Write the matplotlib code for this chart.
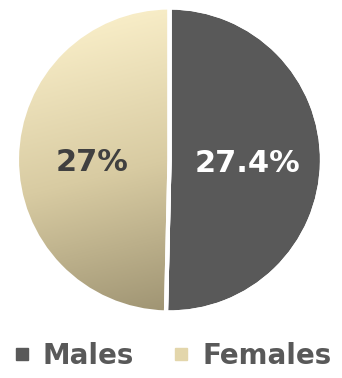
import numpy as np
import matplotlib.pyplot as plt
from matplotlib.colors import LinearSegmentedColormap
from matplotlib.lines import Line2D

groups = ["Males", "Females"]
values = [27.4, 27]
value_labels = ["27.4%", "27%"]
dark = "#595959"

fig = plt.figure(figsize=(3.42, 3.78), dpi=100)
ax = fig.add_axes([0.0497, 0.1733, 0.8918, 0.8069])

wedges, texts, autotexts = ax.pie(values, colors=[dark, "#e6d9ae"], startangle=90,
                                  counterclock=False, autopct="%1.1f",
                                  pctdistance=0.51, radius=1,
                                  wedgeprops=dict(edgecolor="white", linewidth=3))
for t, lab, col in zip(autotexts, value_labels, ["white", "#404040"]):
    t.set_text(lab)
    t.set_color(col)
    t.set_fontsize(22)
    t.set_fontweight("bold")
    t.set_y(t.get_position()[1] - 0.02)

# gradient fill for the females slice
cmap = LinearSegmentedColormap.from_list("beige", ["#9f9473", "#d8cba2", "#f7ecc6"])
yy, xx = np.mgrid[-1:1:300j, -1:1:300j]
grad = yy - 0.25 * xx
img = ax.imshow(grad, extent=[-1, 1, -1, 1], origin="lower", cmap=cmap,
                vmin=-1.0, vmax=1.0,
                zorder=wedges[1].get_zorder() + 0.1, interpolation="bilinear")
img.set_clip_path(wedges[1])
wedges[1].set_facecolor("none")
sep = ax.pie(values, colors=["none", "none"], startangle=90, counterclock=False,
             wedgeprops=dict(edgecolor="white", linewidth=3))
for w in sep[0]:
    w.set_zorder(img.get_zorder() + 0.1)
for t in autotexts:
    t.set_zorder(10)
ax.set_xlim(-1, 1)
ax.set_ylim(-1, 1)
ax.set_aspect("equal")

handles = [Line2D([], [], marker="s", linestyle="none", markersize=8, color=dark),
           Line2D([], [], marker="s", linestyle="none", markersize=8, color="#e3d6ab")]
fig.legend(handles, groups, loc="lower center", bbox_to_anchor=(0.5, -0.045), ncol=2,
           frameon=False, handletextpad=0.35, columnspacing=1.3,
           prop=dict(size=20, weight="bold"), labelcolor=dark, handlelength=0.8)

fig.savefig("out.png", dpi=100)
